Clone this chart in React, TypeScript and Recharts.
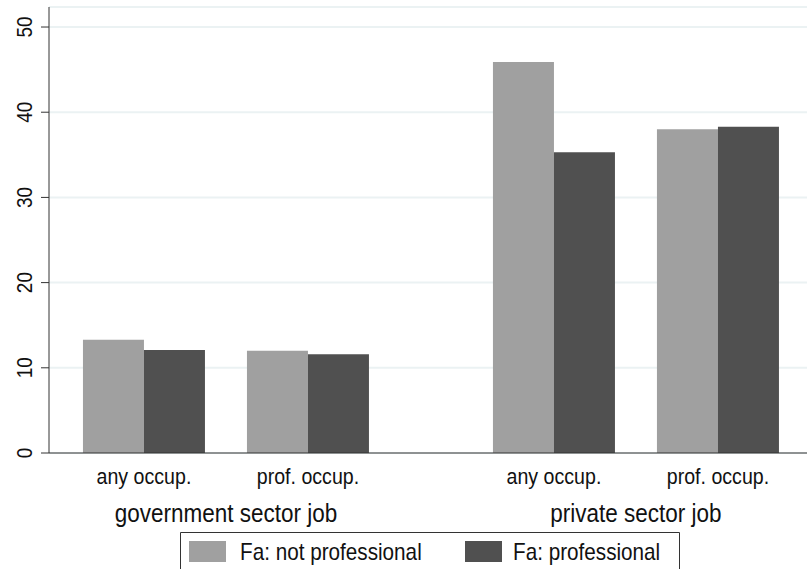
import React from "react";
import {
    Bar,
    BarChart,
    CartesianGrid,
    Legend,
    XAxis,
    YAxis,
} from "recharts";

// Stata-style grouped bar chart: two sector groups, two occupation
// categories each, split by father's professional status.

const groups = ["government sector job", "private sector job"];
const occupations = ["any occup.", "prof. occup."];
// order: gov/any, gov/prof, private/any, private/prof
const notProfessional = [13.3, 12.0, 45.9, 38.0];
const professional = [12.1, 11.6, 35.3, 38.3];
const yTicks = [0, 10, 20, 30, 40, 50];

const seriesNames = ["Fa: not professional", "Fa: professional"];
const seriesColors = ["#a0a0a0", "#505050"];

// groups sit 2.5 category-widths apart on a numeric axis, so the gap
// between them is wider than the gap inside a group
const GROUP_STEP = 2.5;

const data = groups.flatMap((g, gi) =>
    occupations.map((o, oi) => {
        const i = gi * occupations.length + oi;
        return {
            pos: gi * GROUP_STEP + oi,
            occupation: o,
            group: g,
            notProf: notProfessional[i],
            prof: professional[i],
        };
    }),
);
const occTicks = data.map((d) => d.pos);
const groupTicks = groups.map((_, gi) => gi * GROUP_STEP + (occupations.length - 1) / 2);

const FONT = "'Liberation Sans', Arial, sans-serif";
const STRETCH = 1.15; // Stata text renders a bit taller than Arial

function OccTick(props: any) {
    const { x, y, payload } = props;
    const d = data.find((r) => r.pos === payload.value);
    return (
        <text
            transform={`translate(${x},${y + 31}) scale(1,${STRETCH})`}
            textAnchor="middle"
            fontFamily={FONT}
            fontSize={19.6}
            fill="#111"
        >
            {d ? d.occupation : ""}
        </text>
    );
}

function GroupTick(props: any) {
    const { x, y, payload } = props;
    const gi = groupTicks.indexOf(payload.value);
    return (
        <text
            transform={`translate(${x},${y + 28.5}) scale(1,${STRETCH})`}
            textAnchor="middle"
            fontFamily={FONT}
            fontSize={22.5}
            fill="#111"
        >
            {groups[gi] ?? ""}
        </text>
    );
}

function YTick(props: any) {
    const { y, payload } = props;
    return (
        <text
            transform={`translate(32,${y}) rotate(-90) scale(1,${STRETCH})`}
            textAnchor="middle"
            fontFamily={FONT}
            fontSize={19}
            fill="#111"
        >
            {payload.value}
        </text>
    );
}

function LegendBox(props: any) {
    const items = props.payload ?? [];
    return (
        <svg width={500} height={37} style={{ display: "block" }}>
            <rect x={0} y={0} width={500} height={37} fill="#fff" />
            <polyline
                points="0.5,37 0.5,0.5 499.5,0.5 499.5,37"
                fill="none"
                stroke="#333"
                strokeWidth={1}
            />
            {items.map((it: any, i: number) => (
                <g key={i}>
                    <rect x={9 + i * 276} y={9} width={37} height={21} fill={it.color} />
                    <text
                        transform={`translate(${60 + i * 273},28) scale(1,${STRETCH})`}
                        fontFamily={FONT}
                        fontSize={20.7}
                        fill="#111"
                    >
                        {it.value}
                    </text>
                </g>
            ))}
        </svg>
    );
}

export default function App() {
    return (
        <div style={{ position: "absolute", left: 0, top: 0, background: "#fff" }}>
            <BarChart
                width={807}
                height={569}
                data={data}
                margin={{ top: 7, right: 0, bottom: 0, left: 0 }}
                barGap={0}
                barSize={61}
            >
                <CartesianGrid
                    horizontal
                    vertical={false}
                    stroke="#ebf2f3"
                    strokeWidth={2}
                />
                <XAxis
                    dataKey="pos"
                    type="number"
                    domain={[-0.579, 4.043]}
                    ticks={occTicks}
                    interval={0}
                    height={40}
                    stroke="#333"
                    tickLine={false}
                    tickSize={0}
                    tickMargin={0}
                    tick={<OccTick />}
                />
                <XAxis
                    xAxisId="grp"
                    dataKey="pos"
                    type="number"
                    domain={[-0.579, 4.043]}
                    ticks={groupTicks}
                    interval={0}
                    height={76}
                    axisLine={false}
                    tickLine={false}
                    tickSize={0}
                    tickMargin={0}
                    tick={<GroupTick />}
                />
                <YAxis
                    type="number"
                    domain={[0, 52.35]}
                    ticks={yTicks}
                    interval={0}
                    width={49}
                    stroke="#333"
                    tickSize={8}
                    tick={<YTick />}
                />
                <Legend
                    layout="horizontal"
                    verticalAlign="middle"
                    align="center"
                    content={<LegendBox />}
                    wrapperStyle={{ top: 532, left: 180, width: 500, height: 37 }}
                />
                <Bar
                    dataKey="notProf"
                    name={seriesNames[0]}
                    fill={seriesColors[0]}
                    isAnimationActive={false}
                />
                <Bar
                    dataKey="prof"
                    name={seriesNames[1]}
                    fill={seriesColors[1]}
                    isAnimationActive={false}
                />
            </BarChart>
        </div>
    );
}
